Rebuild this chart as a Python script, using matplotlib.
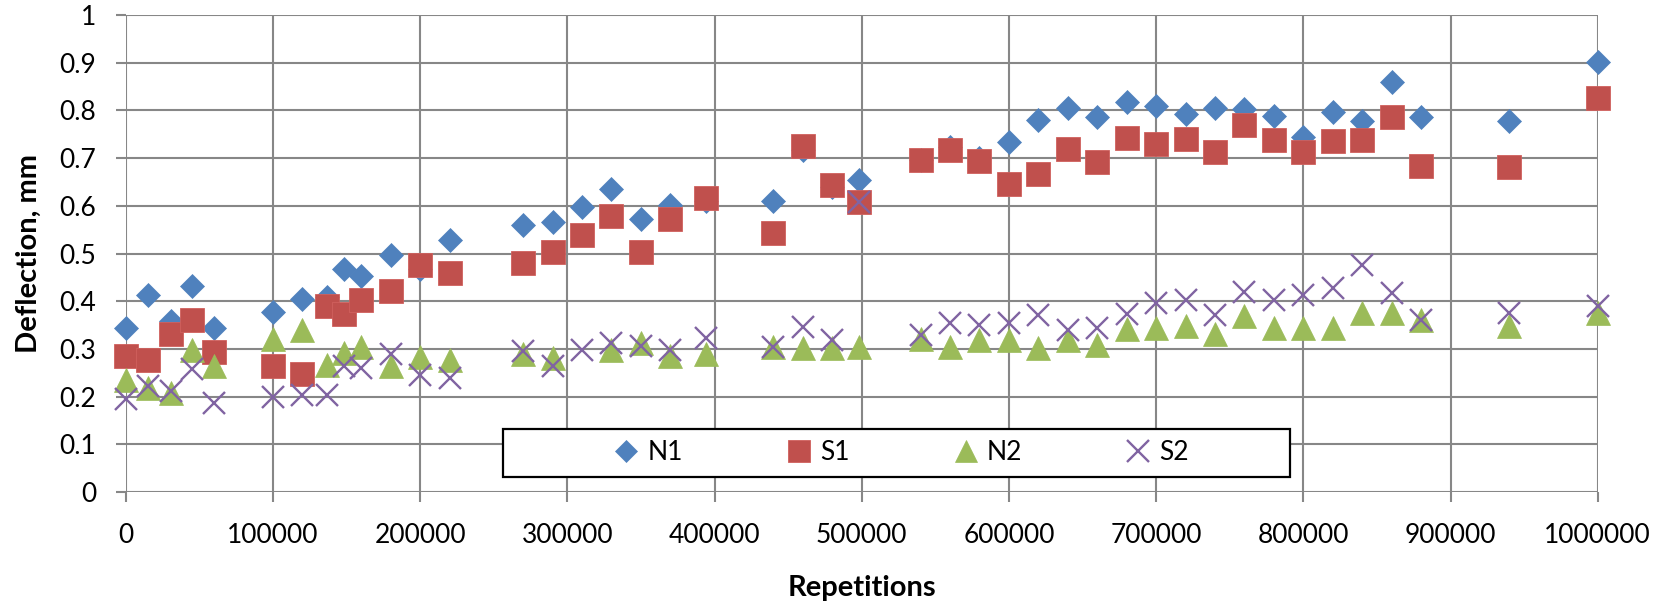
import matplotlib
matplotlib.use("Agg")
import matplotlib.pyplot as plt
from matplotlib.patches import Rectangle

plt.rcParams["font.family"] = ["Lato", "DejaVu Sans"]

# repetitions at which deflection was measured
REPS = [0, 15000, 31000, 45000, 60000,
        100000, 120000, 137000, 148000, 160000, 180000, 200000, 220000,
        270000, 290000, 310000, 330000, 350000, 370000, 394000, 440000, 460000, 480000, 498000,
        540000, 560000, 580000, 600000, 620000, 640000, 660000, 680000, 700000, 720000,
        740000, 760000, 780000, 800000, 820000, 840000, 860000, 880000,
        940000, 1000000]

N1 = [0.344, 0.413, 0.359, 0.431, 0.344,
      0.378, 0.404, 0.408, 0.467, 0.453, 0.497, 0.468, 0.529,
      0.559, 0.567, 0.598, 0.635, 0.573, 0.602, 0.611, 0.610, 0.718, 0.639, 0.654,
      0.695, 0.723, 0.701, 0.733, 0.780, 0.804, 0.787, 0.818, 0.809, 0.793,
      0.804, 0.802, 0.788, 0.745, 0.797, 0.778, 0.860, 0.787,
      0.778, 0.902]
S1 = [0.286, 0.276, 0.331, 0.360, 0.293,
      0.265, 0.248, 0.390, 0.374, 0.403, 0.422, 0.476, 0.460,
      0.481, 0.504, 0.538, 0.579, 0.504, 0.573, 0.616, 0.543, 0.726, 0.644, 0.609,
      0.696, 0.717, 0.693, 0.645, 0.667, 0.719, 0.691, 0.742, 0.730, 0.740,
      0.712, 0.770, 0.738, 0.712, 0.735, 0.738, 0.786, 0.684,
      0.681, 0.827]
N2 = [0.234, 0.217, 0.208, 0.297, 0.265,
      0.321, 0.339, 0.266, 0.292, 0.303, 0.264, 0.282, 0.277,
      0.290, 0.281, float("nan"), 0.297, 0.312, 0.286, 0.290, 0.305, 0.302, 0.302, 0.305,
      0.321, 0.305, 0.318, 0.319, 0.302, 0.318, 0.309, 0.341, 0.344, 0.348,
      0.332, 0.368, 0.344, 0.344, 0.344, 0.375, 0.375, 0.360,
      0.347, 0.375]
S2 = [0.195, 0.223, 0.211, 0.258, 0.186,
      0.200, 0.204, 0.204, 0.265, 0.260, 0.290, 0.246, 0.239,
      0.295, 0.265, 0.297, 0.312, 0.307, 0.297, 0.323, 0.305, 0.346, 0.318, 0.609,
      0.330, 0.354, 0.351, 0.354, 0.372, 0.339, 0.344, 0.373, 0.396, 0.403,
      0.372, 0.420, 0.403, 0.413, 0.427, 0.476, 0.417, 0.360,
      0.375, 0.390]

X_TICKS = list(range(0, 1000001, 100000))
Y_TICKS = [0, 0.1, 0.2, 0.3, 0.4, 0.5, 0.6, 0.7, 0.8, 0.9, 1]
Y_LABELS = ["0", "0.1", "0.2", "0.3", "0.4", "0.5", "0.6", "0.7", "0.8", "0.9", "1"]

GRID = "#878787"
W, H = 1669, 607

fig = plt.figure(figsize=(W / 100, H / 100), dpi=100)
ax = fig.add_axes([125.7 / W, 1 - 492 / H, 1472 / W, 477 / H])

series = [
    ("N1", N1, dict(marker="D", ms=12.5, color="#4F81BD", mec="#4F81BD", mew=0.5)),
    ("S1", S1, dict(marker="s", ms=17.5, color="#C0504D", mec="#D0605D", mew=0.6)),
    ("N2", N2, dict(marker="^", ms=17.5, color="#9BBB59", mec="#9BBB59", mew=0.5)),
    ("S2", S2, dict(marker="x", ms=16.5, color="#8064A2", mec="#8064A2", mew=1.7)),
]
for name, vals, kw in series:
    ax.plot(REPS, vals, ls="none", label=name, clip_on=False, zorder=3, **kw)

ax.set_xlim(0, 1000000)
ax.set_ylim(0, 1)
ax.set_xticks(X_TICKS, [str(t) for t in X_TICKS])
ax.set_yticks(Y_TICKS, Y_LABELS)
ax.grid(True, color=GRID, lw=1.5, zorder=0)
ax.set_axisbelow(True)
for s in ax.spines.values():
    s.set_visible(False)
ax.tick_params(axis="both", length=7.2, width=1.5, color=GRID, labelsize=19)
ax.tick_params(axis="y", pad=14)
ax.tick_params(axis="x", pad=15)

ax.set_xlabel("Repetitions", fontsize=21, fontweight="bold")
ax.xaxis.set_label_coords(0.5, -0.2013)
ax.xaxis.label.set_verticalalignment("center")
ax.set_ylabel("Deflection, mm", fontsize=21, fontweight="bold")
ax.yaxis.set_label_coords((29 - 125.7) / 1472, 0.5)
ax.yaxis.label.set_verticalalignment("center")

# legend box drawn separately so it spans the same width as the original
box = Rectangle((503 / W, 1 - 477 / H), 787 / W, 48 / H, transform=fig.transFigure,
                facecolor="white", edgecolor="black", lw=1.6, zorder=5, clip_on=False)
ax.add_patch(box)
leg = ax.legend(loc="center", bbox_to_anchor=(901 / W, 1 - 453 / H),
                bbox_transform=fig.transFigure, ncol=4, frameon=False,
                fontsize=19, markerscale=0.92, handlelength=1.0,
                handletextpad=0.3, columnspacing=3.9, borderpad=0)
leg.set_zorder(6)

fig.savefig("out.png", dpi=100)
